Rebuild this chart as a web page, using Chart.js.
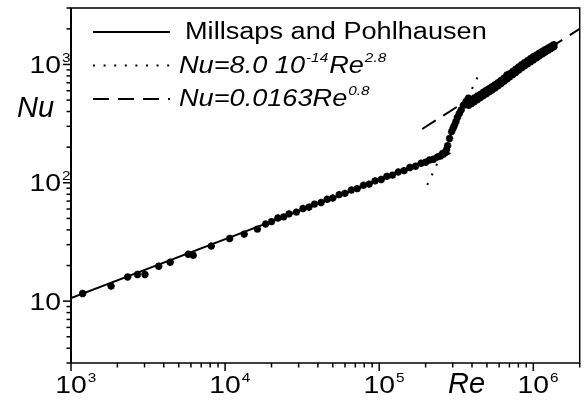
<!DOCTYPE html>
<html>
<head>
<meta charset="utf-8">
<script src="https://cdn.jsdelivr.net/npm/chart.js@4.4.1/dist/chart.umd.min.js"></script>
<style>
  body { margin: 0; background: #fff; }
  #wrap { width: 586px; height: 400px; }
</style>
</head>
<body>
<div id="wrap"><canvas id="myChart"></canvas></div>
<script>
// laminar points, sparse (Re, Nu)
const reLam = [1190, 1820, 2330, 2700, 3020, 3710, 4400, 5770, 6210, 8130, 10700, 13300, 16200, 18300];
const nuLam = [11.6, 13.4, 16.0, 16.8, 16.8, 19.7, 21.3, 24.9, 24.4, 29.2, 33.8, 36.8, 40.6, 44.8];

// laminar points, dense band
const reBand = [20000, 22000, 24000, 26000, 29000, 32000, 35000, 38000, 42000, 46000, 50000, 55000, 60000, 66000, 72000, 79000,
  86000, 94000, 103000, 112000, 122000, 133000, 145000, 158000, 172000, 187000, 200000, 212000, 225000, 238000, 250000, 260000];
const nuBand = [47.0, 50.4, 51.5, 54.6, 56.5, 60.6, 62.2, 66.0, 68.2, 72.6, 74.3, 79.5, 81.4, 87.0, 89.2, 95.2,
  97.4, 103.8, 106.6, 113.3, 116.0, 123.5, 126.6, 134.6, 138.0, 146.4, 149.0, 155.8, 158.2, 165.0, 168.5, 174.0];

// transition
const reTrans = [258000, 268000, 273000, 278000, 286000, 295000, 302000, 308000, 315000, 322000, 331000, 340000, 352000, 366000, 379000];
const nuTrans = [177, 180, 190, 206, 237, 271, 290, 307, 330, 358, 385, 412, 452, 486, 519];

// turbulent band (two runs)
const reTurb = [380000, 397000, 415000, 434000, 453000, 474000, 495000, 517000, 540000, 565000, 590000, 617000, 645000, 674000, 704000,
  736000, 769000, 804000, 840000, 878000, 917000, 959000, 1000000, 1050000, 1090000, 1140000, 1190000, 1250000, 1300000, 1360000];
const nuTurbA = [486, 504, 522, 541, 559, 582, 604, 625, 649, 675, 701, 732, 766, 815, 835,
  872, 912, 953, 995, 1037, 1076, 1120, 1161, 1205, 1243, 1288, 1330, 1378, 1420, 1470];
const nuTurbB = [452, 468, 486, 505, 524, 546, 566, 587, 609, 633, 659, 688, 720, 753, 785,
  820, 856, 895, 935, 975, 1012, 1052, 1091, 1140, 1180, 1224, 1268, 1318, 1360, 1412];

// correlations
const reMP = [1000, 290000];
const nuMP = [10.6, 178];
const reDot = [205000, 435000];
const nuDot = [96, 785];
const reDash = [190000, 2000000];
const nuDash = [285, 2000];

// axes
const xTickVals = [1e3, 1e4, 1e5, 1e6];
const xTickSup = ['3', '4', '5', '6'];
const yTickVals = [10, 100, 1000];
const yTickSup = ['', '2', '3'];

const legendText = [
  [['Millsaps and Pohlhausen', 0]],
  [['Nu=8.0 10', 0], ['-14', 1], ['Re', 0], ['2.8', 1]],
  [['Nu=0.0163Re', 0], ['0.8', 1]]
];

const pts = (xs, ys) => xs.map((x, i) => ({ x: x, y: ys[i] }));

const FAM = '"Liberation Sans", Arial, sans-serif';
const SX = 1.18;

// draws text with superscripts, a bit wider like the scanned figure
function drawRich(ctx, parts, x, y, size, italic, sx) {
  const st = italic ? 'italic ' : '';
  const supSize = Math.round(size * 0.56);
  let cx = x;
  parts.forEach(([t, sup]) => {
    ctx.save();
    ctx.font = st + (sup ? supSize : size) + 'px ' + FAM;
    const w = ctx.measureText(t).width * sx;
    ctx.translate(cx + (sup ? 1 : 0), sup ? y - size * 0.47 : y);
    ctx.scale(sx, 1);
    ctx.fillText(t, 0, 0);
    ctx.restore();
    cx += w + (sup ? 2 : 0);
  });
}

function textW(ctx, t, size, sx) {
  ctx.font = size + 'px ' + FAM;
  return ctx.measureText(t).width * sx;
}

const decor = {
  id: 'decor',
  afterDraw(chart) {
    const ctx = chart.ctx;
    const a = chart.chartArea;
    const xs = chart.scales.x, ys = chart.scales.y;
    ctx.save();
    ctx.fillStyle = '#000';
    ctx.strokeStyle = '#000';
    ctx.textBaseline = 'alphabetic';

    // frame
    ctx.lineWidth = 1.5;
    ctx.strokeRect(a.left, a.top, a.right - a.left, a.bottom - a.top);
    ctx.lineWidth = 2;
    ctx.beginPath();
    ctx.moveTo(a.left, a.top); ctx.lineTo(a.left, a.bottom);
    ctx.stroke();

    // ticks, outward
    ctx.lineWidth = 1.5;
    for (let e = 0; e <= 6; e++) {
      for (let m = 1; m <= 9; m++) {
        const v = m * Math.pow(10, e);
        const len = m === 1 ? 8 : 4.5;
        if (v >= xs.min && v <= xs.max) {
          const px = xs.getPixelForValue(v);
          ctx.beginPath(); ctx.moveTo(px, a.bottom); ctx.lineTo(px, a.bottom + len); ctx.stroke();
        }
        if (v >= ys.min && v <= ys.max) {
          const py = ys.getPixelForValue(v);
          ctx.beginPath(); ctx.moveTo(a.left, py); ctx.lineTo(a.left - len, py); ctx.stroke();
        }
      }
    }

    // tick labels
    const ts = 24;
    xTickVals.forEach((v, i) => {
      const px = xs.getPixelForValue(v);
      const w = textW(ctx, '10', ts, SX);
      drawRich(ctx, [['10', 0], [xTickSup[i], 1]], px - w / 2, 393, ts, false, SX);
    });
    yTickVals.forEach((v, i) => {
      const py = ys.getPixelForValue(v);
      const w = textW(ctx, '10', ts, SX);
      drawRich(ctx, [['10', 0], [yTickSup[i], 1]], 61 - w, py + 8.6, ts, false, SX);
    });

    // axis titles
    drawRich(ctx, [['Nu', 0]], 17, 117, 29, true, 1);
    drawRich(ctx, [['Re', 0]], 448, 393, 29, true, 1);

    // legend
    const rowY = [32, 65.5, 99];
    const dsIdx = [1, 2, 3];
    rowY.forEach((y, i) => {
      const ds = chart.data.datasets[dsIdx[i]];
      ctx.save();
      ctx.lineWidth = ds.borderWidth;
      ctx.setLineDash(ds.borderDash || []);
      ctx.beginPath(); ctx.moveTo(93, y); ctx.lineTo(170, y); ctx.stroke();
      ctx.restore();
      drawRich(ctx, legendText[i], i === 0 ? 185 : 179, y + 7, 23, i > 0, SX);
    });
    ctx.restore();
  }
};

const ctx = document.getElementById('myChart').getContext('2d');
const myChart = new Chart(ctx, {
  type: 'scatter',
  data: {
    datasets: [{
      label: 'Experiment',
      data: [].concat(pts(reLam, nuLam), pts(reBand, nuBand), pts(reTrans, nuTrans),
        pts(reTurb, nuTurbA), pts(reTurb, nuTurbB)),
      pointStyle: 'star',
      pointRadius: 3.7,
      borderColor: '#000',
      backgroundColor: '#000',
      borderWidth: 2.3
    }, {
      label: 'Millsaps and Pohlhausen',
      data: pts(reMP, nuMP),
      showLine: true,
      pointRadius: 0,
      borderColor: '#000',
      borderWidth: 2
    }, {
      label: 'Nu=8.0 10^-14 Re^2.8',
      data: pts(reDot, nuDot),
      showLine: true,
      pointRadius: 0,
      borderColor: '#000',
      borderWidth: 2,
      borderDash: [2, 8.6]
    }, {
      label: 'Nu=0.0163 Re^0.8',
      data: pts(reDash, nuDash),
      showLine: true,
      pointRadius: 0,
      borderColor: '#000',
      borderWidth: 2,
      borderDash: [16, 9]
    }]
  },
  options: {
    responsive: true,
    maintainAspectRatio: false,
    animation: false,
    layout: { padding: { top: 8, right: 1, left: 0, bottom: 0 } },
    plugins: { legend: { display: false }, tooltip: { enabled: false } },
    scales: {
      x: {
        type: 'logarithmic', min: 1000, max: 2000000,
        grid: { display: false }, border: { display: false },
        ticks: { display: false },
        afterFit: s => { s.height = 37; }
      },
      y: {
        type: 'logarithmic', min: 3, max: 3000,
        grid: { display: false }, border: { display: false },
        ticks: { display: false },
        afterFit: s => { s.width = 71; }
      }
    }
  },
  plugins: [decor]
});
</script>
</body>
</html>
